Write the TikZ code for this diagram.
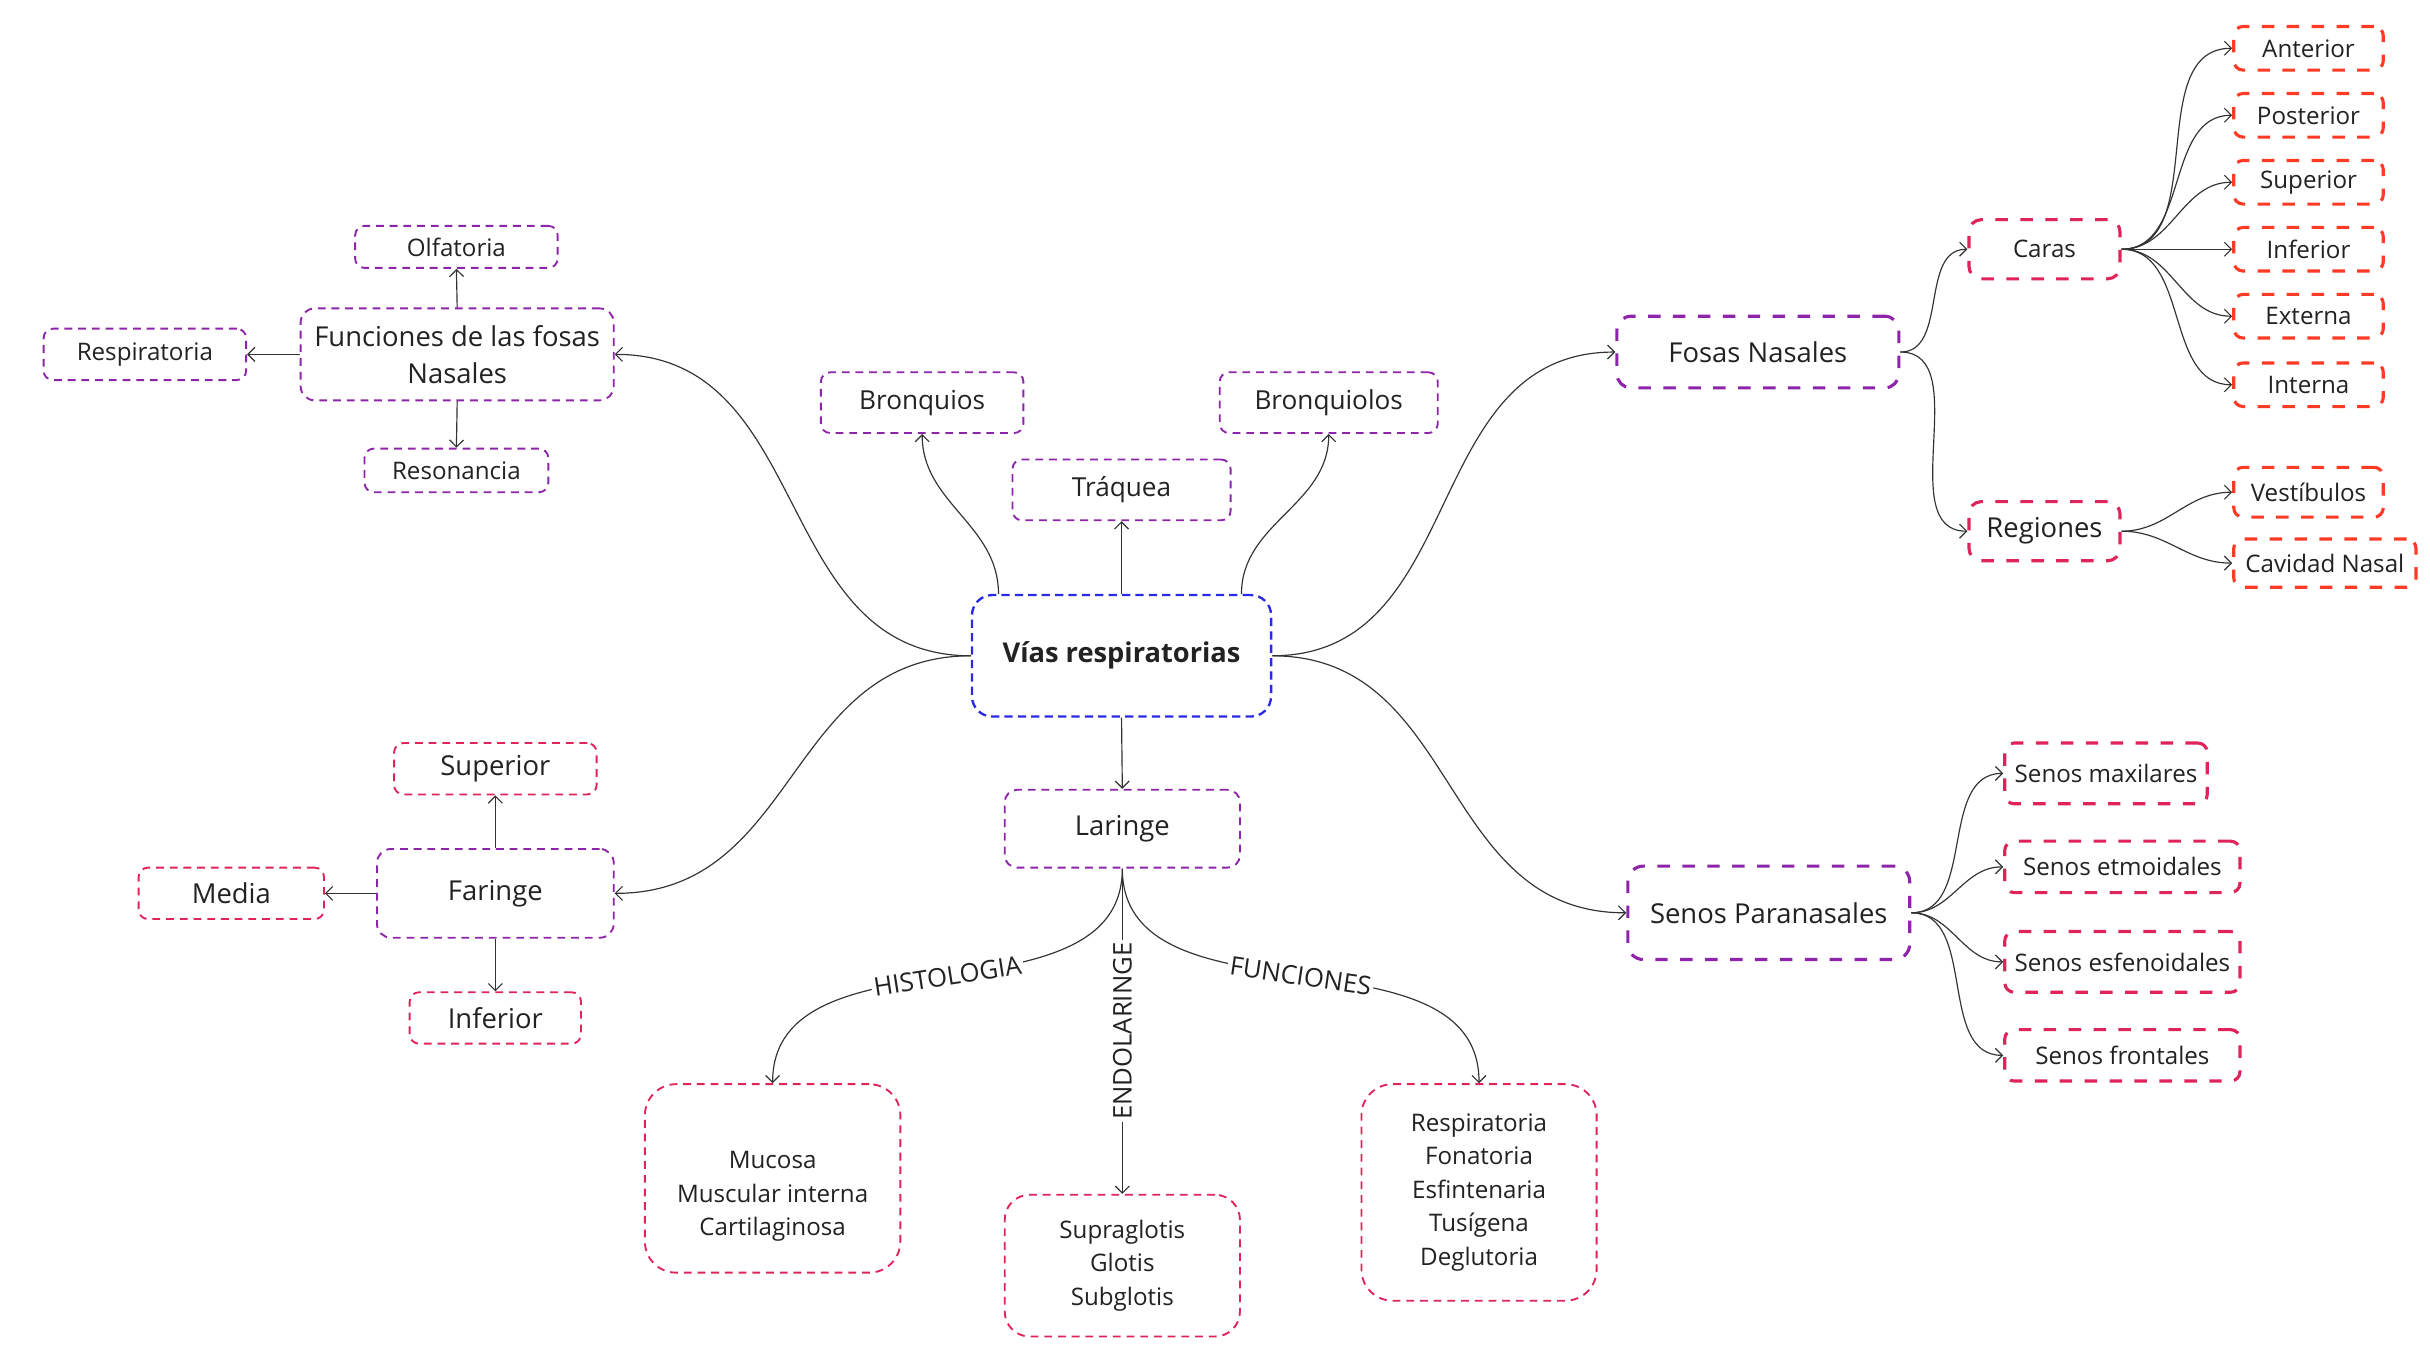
\documentclass[tikz,border=0pt]{standalone}
\usepackage{fontspec}
\setmainfont{Open Sans}
\usetikzlibrary{arrows.meta}
\definecolor{cblue}{HTML}{2A2AE6}
\definecolor{cpurple}{HTML}{8E24AA}
\definecolor{cpink}{HTML}{E0245A}
\definecolor{cred}{HTML}{FF3B26}
\definecolor{ctext}{HTML}{222222}
\definecolor{cline}{HTML}{333333}
\tikzset{
  bx/.style={draw, rounded corners=6pt, align=center, inner sep=1pt, text=ctext,
             line width=1.2pt, dash pattern=on 5pt off 3.8pt},
  thk/.style={line width=2pt, dash pattern=on 8pt off 8pt},
  sz/.style 2 args={minimum width=#1pt, minimum height=#2pt},
  fA/.style={font=\fontsize{17.6}{24}\selectfont},
  fB/.style={font=\fontsize{16.8}{22}\selectfont},
  fC/.style={font=\fontsize{15.5}{21.5}\selectfont},
  conn/.style={draw=cline, line width=0.75pt, -{Straight Barb[length=4.5pt,width=9pt]}},
  lbl/.style={fill=white, inner sep=1.5pt, text=ctext, font=\fontsize{16.5}{18}\selectfont},
}
\begin{document}
\begin{tikzpicture}[x=1pt,y=1pt]
\useasboundingbox[fill=white] (0,0) rectangle (1560,-875.65);

% central
\node[bx, draw=cblue, line width=1.5pt, dash pattern=on 5.3pt off 3.3pt, rounded corners=13pt,
      sz={192}{78}, font=\fontsize{17.5}{21}\selectfont\bfseries] (vias) at (720,-421) {Vías respiratorias};

% top center
\node[bx, draw=cpurple, fB, sz={140}{39}] (tra) at (720,-314.5) {Tráquea};
\node[bx, draw=cpurple, fB, sz={130}{39}] (bron) at (592,-258.5) {Bronquios};
\node[bx, draw=cpurple, fB, sz={140}{39}] (bronl) at (853,-258.5) {Bronquiolos};

% laringe
\node[bx, draw=cpurple, fA, sz={151}{50}, rounded corners=8pt] (lar) at (720.5,-532) {Laringe};
\node[bx, draw=cpink, fC, sz={164}{121}, rounded corners=20pt] (hist) at (496,-756.5) {\mbox{}\\[13pt]Mucosa\\Muscular interna\\Cartilaginosa};
\node[bx, draw=cpink, fC, sz={151}{91}, rounded corners=16pt] (endo) at (720.5,-812.5) {Supraglotis\\Glotis\\Subglotis};
\node[bx, draw=cpink, fC, sz={151}{139}, rounded corners=20pt] (func) at (949.5,-765.5) {Respiratoria\\Fonatoria\\Esfintenaria\\Tusígena\\Deglutoria};

% funciones de las fosas
\node[bx, draw=cpurple, fA, sz={201}{59}, rounded corners=9pt] (fun) at (293.5,-227.5) {Funciones de las fosas\\Nasales};
\node[bx, draw=cpurple, fC, sz={130}{27}] (olf) at (293,-158.5) {Olfatoria};
\node[bx, draw=cpurple, fC, sz={130}{33}] (resp) at (93,-227.5) {Respiratoria};
\node[bx, draw=cpurple, fC, sz={118}{28}] (reso) at (293,-302) {Resonancia};

% faringe
\node[bx, draw=cpurple, fA, sz={152}{57}, rounded corners=9pt] (far) at (318,-573.5) {Faringe};
\node[bx, draw=cpink, fA, sz={130}{33}] (fsup) at (318,-493.5) {Superior};
\node[bx, draw=cpink, fA, sz={119}{33}] (fmed) at (148.5,-573.5) {Media};
\node[bx, draw=cpink, fA, sz={110}{33}] (finf) at (318,-653.5) {Inferior};

% fosas nasales
\node[bx, draw=cpurple, thk, fA, sz={181}{46}, rounded corners=9pt] (fosas) at (1128.5,-226) {Fosas Nasales};
\node[bx, draw=cpink, thk, fC, sz={97}{38}, rounded corners=8pt] (caras) at (1312.5,-160) {Caras};
\node[bx, draw=cpink, thk, fA, sz={97}{38}, rounded corners=8pt] (reg) at (1312.5,-341) {Regiones};
\node[bx, draw=cred, thk, fC, sz={96}{28}] (c1) at (1482,-31) {Anterior};
\node[bx, draw=cred, thk, fC, sz={96}{28}] (c2) at (1482,-74) {Posterior};
\node[bx, draw=cred, thk, fC, sz={96}{28}] (c3) at (1482,-117) {Superior};
\node[bx, draw=cred, thk, fC, sz={96}{28}] (c4) at (1482,-160) {Inferior};
\node[bx, draw=cred, thk, fC, sz={96}{28}] (c5) at (1482,-203) {Externa};
\node[bx, draw=cred, thk, fC, sz={96}{28}] (c6) at (1482,-247) {Interna};
\node[bx, draw=cred, thk, fC, sz={96}{32}] (r1) at (1482,-316) {Vestíbulos};
\node[bx, draw=cred, thk, fC, sz={117}{31}] (r2) at (1492.5,-361.5) {Cavidad Nasal};

% senos paranasales
\node[bx, draw=cpurple, thk, fA, sz={181}{60}, rounded corners=10pt] (senos) at (1135.5,-586) {Senos Paranasales};
\node[bx, draw=cpink, thk, fC, sz={130}{39}] (s1) at (1352,-496.5) {Senos maxilares};
\node[bx, draw=cpink, thk, fC, sz={151}{33}] (s2) at (1362.5,-556.5) {Senos etmoidales};
\node[bx, draw=cpink, thk, fC, sz={151}{39}] (s3) at (1362.5,-617.5) {Senos esfenoidales};
\node[bx, draw=cpink, thk, fC, sz={151}{33}] (s4) at (1362.5,-677.5) {Senos frontales};

% connectors from central node
\draw[conn] (vias.west) to[out=180,in=0,looseness=1.1] (fun.east);
\draw[conn] (vias.west) to[out=180,in=0,looseness=1.1] (far.east);
\draw[conn] (vias.east) to[out=0,in=180,looseness=1.1] (fosas.west);
\draw[conn] (vias.east) to[out=0,in=180,looseness=1.1] (senos.west);
\draw[conn] (vias.north) -- (tra.south);
\draw[conn] ([xshift=-79pt]vias.north) to[out=90,in=-90] (bron.south);
\draw[conn] ([xshift=77pt]vias.north) to[out=90,in=-90] (bronl.south);
\draw[conn] (vias.south) -- (lar.north);

% laringe
\draw[conn] (lar.south) to[out=-90,in=90] node[lbl, sloped] {HISTOLOGIA} (hist.north);
\draw[conn] (lar.south) -- node[lbl, rotate=90] {ENDOLARINGE} (endo.north);
\draw[conn] (lar.south) to[out=-90,in=90] node[lbl, sloped] {FUNCIONES} (func.north);

% funciones fosas
\draw[conn] (fun.north) -- (olf.south);
\draw[conn] (fun.west) -- (resp.east);
\draw[conn] (fun.south) -- (reso.north);

% faringe
\draw[conn] (far.north) -- (fsup.south);
\draw[conn] (far.west) -- (fmed.east);
\draw[conn] (far.south) -- (finf.north);

% fosas nasales
\draw[conn] (fosas.east) to[out=0,in=180] (caras.west);
\draw[conn] (fosas.east) to[out=0,in=180] (reg.west);
\foreach \n in {c1,c2,c3,c4,c5,c6}
  \draw[conn] (caras.east) to[out=0,in=180] (\n.west);
\foreach \n in {r1,r2}
  \draw[conn] (reg.east) to[out=0,in=180] (\n.west);

% senos
\foreach \n in {s1,s2,s3,s4}
  \draw[conn] (senos.east) to[out=0,in=180] (\n.west);
\end{tikzpicture}
\end{document}
